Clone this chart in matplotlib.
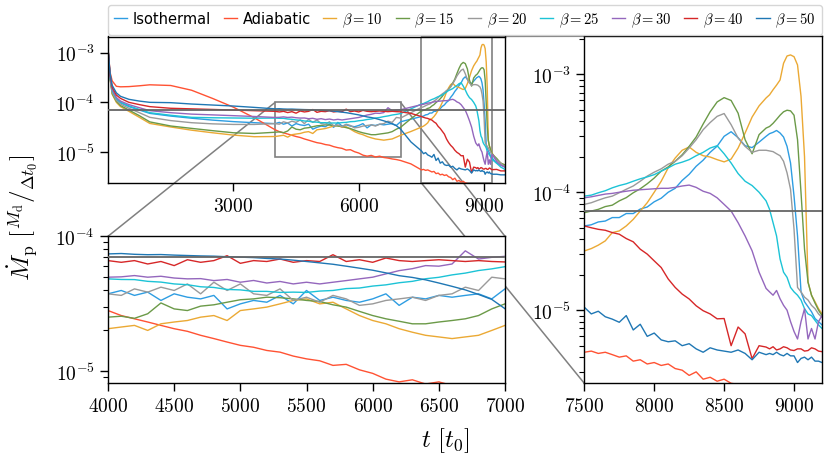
import numpy as np
import matplotlib
matplotlib.use("Agg")
import matplotlib.pyplot as plt
from matplotlib.patches import Rectangle, ConnectionPatch
from matplotlib.ticker import FixedLocator, FuncFormatter, NullLocator, NullFormatter, LogLocator

plt.rcParams['mathtext.fontset'] = 'cm'

# sample times [t0]
t = np.array([0, 50, 100, 200, 300, 500, 750, 1000, 1500, 2000, 2500, 3000, 3500]
             + list(range(4000, 7001, 100)) + [7250]
             + list(range(7500, 8801, 50)) + list(range(8825, 9201, 25))
             + [9300, 9400, 9500])

# accretion rates, in units of 1e-5 Md/dt0
iso = np.array([120, 32, 17, 11.5, 9.8, 8.2, 7.0, 6.0, 5.3, 4.8, 4.4, 4.1, 3.9,
                3.74, 3.96, 3.64, 3.85, 3.34, 3.74, 3.53, 3.43, 3.64, 2.89, 3.15, 3.34, 3.24, 3.64, 3.15, 3.96,
                3.34, 3.53, 3.34, 3.24, 3.43, 3.74, 3.07, 3.53, 3.43, 3.64, 3.53, 3.64, 3.74, 3.43, 4.07,
                4.6,
                5.18, 5.3, 5.6, 5.7, 6.1, 6.1, 6.6, 6.6, 7.2, 7.5, 8.3, 8.9, 10.0, 10.8, 12.6, 14.2, 16.6,
                18.7, 21.8, 24.6, 29.8, 32.6, 29.0, 24.8, 23.9, 26.6, 29.8,
                31.4, 32.2, 33.4, 31.8, 29.4, 24.5, 17.7, 9.27, 4.26, 1.43, 1.18, 1.07, 0.97, 0.85, 0.8, 0.75,
                0.6, 0.55, 0.5]) * 1e-5
adiabatic = np.array([120, 40, 27, 21, 20.5, 20.7, 21.5, 22.5, 21.8, 17.5, 12, 8.0, 4.9,
                      2.81, 2.58, 2.44, 2.31, 2.18, 2.06, 1.97, 1.84, 1.74, 1.64, 1.55, 1.5, 1.42, 1.38, 1.29, 1.23,
                      1.19, 1.1, 1.12, 1.02, 0.96, 0.87, 0.83, 0.86, 0.8, 0.83, 0.78, 0.76, 0.73, 0.71, 0.68,
                      0.58,
                      0.44, 0.45, 0.43, 0.44, 0.42, 0.40, 0.41, 0.37, 0.38, 0.35, 0.36, 0.34, 0.35, 0.32, 0.31,
                      0.28, 0.30, 0.26, 0.27, 0.25, 0.26, 0.24, 0.235, 0.22, 0.21, 0.20, 0.19,
                      0.185, 0.18, 0.178, 0.175, 0.17, 0.168, 0.165, 0.16, 0.158, 0.155, 0.152, 0.15, 0.148,
                      0.145, 0.142, 0.14,
                      0.13, 0.12, 0.11]) * 1e-5
b10 = np.array([120, 30, 14.5, 10, 8.2, 6.6, 5.0, 3.77, 3.2, 2.76, 2.45, 2.2, 2.04,
                2.06, 2.12, 2.18, 2.0, 2.24, 2.31, 2.37, 2.51, 2.58, 2.37, 2.81, 2.89, 2.98, 3.15, 3.34, 3.43,
                3.15, 3.24, 2.89, 2.58, 2.37, 2.24, 2.06, 1.94, 1.84, 1.79, 1.74, 1.79, 1.84, 2.0, 2.18,
                2.6,
                3.18, 3.33, 3.56, 3.87, 4.55, 4.7, 5.18, 5.89, 6.93, 8.15, 10.0, 12.4, 16.1, 19.5, 22.7,
                24.2, 21.8, 20.4, 19.9, 18.9, 18.1, 19.1, 23.7, 31.8, 43.4, 54, 63,
                67, 74, 81, 89.5, 124, 143, 146, 141, 120, 65, 20, 1.73, 1.34, 1.18, 1.03, 0.93,
                0.7, 0.6, 0.55]) * 1e-5
b15 = np.array([120, 30, 15, 10.5, 8.6, 7.0, 5.4, 4.05, 3.35, 3.0, 2.7, 2.45, 2.37,
                2.51, 2.55, 2.46, 2.66, 3.2, 2.89, 2.81, 3.03, 3.1, 3.24, 3.38, 3.43, 3.53, 3.5, 3.43, 3.34,
                3.28, 3.1, 2.98, 2.77, 2.58, 2.44, 2.34, 2.24, 2.24, 2.31, 2.37, 2.44, 2.58, 2.89, 3.15,
                4.7,
                6.71, 6.93, 7.16, 7.56, 7.77, 8.45, 9.0, 9.9, 10.7, 11.8, 13.2, 15.1, 16.4, 18.3, 20.8,
                24.5, 29.4, 37.9, 48.1, 58.3, 63.4, 60, 46.8, 27.9, 21.2, 30.8, 35,
                36.1, 38.4, 41.5, 45, 48.1, 49.6, 49, 45, 27.9, 9.9, 3.29, 1.73, 1.34, 1.15, 1.0, 0.9,
                0.75, 0.6, 0.55]) * 1e-5
b20 = np.array([120, 31, 16, 11, 9.2, 7.6, 6.2, 5.0, 4.3, 3.9, 3.7, 3.6, 3.6,
                3.74, 3.64, 4.07, 3.85, 4.19, 3.96, 4.43, 3.74, 4.56, 3.96, 4.43, 3.74, 3.64, 4.07, 3.34, 3.53,
                3.24, 3.64, 3.43, 3.07, 3.15, 3.34, 3.43, 3.53, 3.34, 3.64, 3.74, 4.19, 3.96, 4.97, 4.83,
                6.2,
                7.89, 8.15, 8.57, 8.97, 9.27, 9.9, 10.6, 11.3, 12.4, 13.7, 14.8, 15.8, 17.3, 18.3, 20.4,
                23.7, 27.9, 33.9, 39, 44, 46.5, 37.4, 28.8, 24.5, 21.8, 22.7, 22.7,
                22.4, 22.1, 21.2, 20.4, 18.3, 14.6, 10.6, 4.85, 1.56, 1.43, 1.29, 1.22, 1.1, 1.03, 0.93, 0.87,
                0.7, 0.6, 0.5]) * 1e-5
b25 = np.array([120, 31, 17.5, 12, 10.1, 8.5, 7.2, 6.2, 5.5, 5.0, 4.9, 4.85, 4.8,
                4.83, 4.78, 4.77, 4.63, 4.57, 4.43, 4.37, 4.22, 4.17, 4.03, 4.0, 3.9, 3.9, 3.83, 3.85, 3.83,
                3.92, 3.96, 4.09, 4.13, 4.27, 4.36, 4.52, 4.63, 4.84, 4.96, 5.17, 5.33, 5.57, 5.73, 5.95,
                7.4,
                9.27, 9.45, 9.9, 10.3, 10.9, 11.4, 11.8, 12.4, 13.0, 13.5, 14.1, 15.1, 16.1, 17.3, 18.0,
                18.9, 20.4, 21.8, 23.7, 24.8, 21.2, 17.7, 14.4, 12.4, 11.4, 10.0, 8.45,
                7.16, 5.52, 4.26, 2.72, 2.1, 1.9, 1.56, 1.43, 1.34, 1.22, 1.03, 0.93, 0.9, 0.82, 0.75, 0.7,
                0.6, 0.5, 0.45]) * 1e-5
b30 = np.array([120, 33, 18.5, 12.5, 10.6, 9.0, 7.8, 6.8, 6.2, 5.8, 5.6, 5.4, 5.2,
                4.97, 5.0, 5.11, 4.97, 5.05, 4.9, 4.83, 4.85, 4.69, 4.78, 4.56, 4.7, 4.5, 4.62, 4.43, 4.56,
                4.43, 4.56, 4.69, 4.83, 4.97, 5.26, 5.56, 5.75, 6.06, 6.0, 6.23, 7.8, 6.78, 6.98, 7.1,
                8.0,
                8.97, 9.15, 9.4, 9.65, 9.78, 10.0, 10.2, 10.4, 10.5, 10.6, 10.7, 10.8, 10.8, 11.0, 11.3,
                11.5, 11.0, 10.2, 9.78, 8.97, 7.89, 6.93, 5.52, 4.26, 3.19, 2.1, 1.53,
                1.43, 1.34, 1.47, 1.25, 1.1, 1.0, 0.8, 0.66, 0.57, 0.8, 1.03, 0.57, 0.7, 0.57, 0.8, 0.9,
                0.65, 0.55, 0.5]) * 1e-5
b40 = np.array([120, 36, 20, 14, 12, 10, 9.0, 8.2, 7.6, 7.4, 7.2, 7.0, 6.8,
                6.6, 6.41, 6.6, 6.23, 6.5, 6.06, 6.7, 6.41, 6.6, 7.18, 6.3, 6.6, 6.5, 6.78, 6.41, 6.6,
                6.5, 7.3, 6.5, 6.7, 6.41, 6.9, 6.6, 6.5, 6.6, 6.7, 6.6, 6.5, 6.6, 6.5, 6.45,
                6.0,
                5.18, 5.0, 4.85, 4.76, 4.55, 4.41, 4.05, 3.8, 3.29, 2.99, 2.62, 2.3, 1.84, 1.56, 1.37,
                1.245, 1.09, 0.99, 0.93, 0.845, 0.85, 0.5, 0.72, 0.63, 0.388, 0.5, 0.487,
                0.47, 0.49, 0.46, 0.47, 0.49, 0.48, 0.46, 0.455, 0.47, 0.47, 0.45, 0.455, 0.48, 0.47, 0.45, 0.445,
                0.45, 0.42, 0.42]) * 1e-5
b50 = np.array([120, 38, 22, 15.5, 13.2, 11.5, 10.6, 10.0, 9.85, 9.25, 8.83, 8.43, 7.92,
                7.4, 7.45, 7.35, 7.3, 7.32, 7.25, 7.2, 7.15, 7.12, 7.05, 7.0, 6.95, 6.85, 6.78, 6.65, 6.5,
                6.35, 6.2, 6.0, 5.8, 5.6, 5.35, 5.1, 4.95, 4.75, 4.5, 4.25, 4.0, 3.7, 3.4, 2.9,
                1.6,
                1.06, 0.93, 0.98, 0.88, 0.84, 0.79, 0.9, 0.68, 0.76, 0.6, 0.64, 0.56, 0.54, 0.55, 0.5,
                0.52, 0.47, 0.44, 0.48, 0.46, 0.45, 0.44, 0.46, 0.43, 0.38, 0.44, 0.42,
                0.43, 0.42, 0.44, 0.42, 0.41, 0.43, 0.41, 0.41, 0.36, 0.39, 0.40, 0.38, 0.4, 0.37, 0.37, 0.36,
                0.36, 0.35, 0.35]) * 1e-5

labels = ['Isothermal', 'Adiabatic', r'$\beta = 10$', r'$\beta = 15$', r'$\beta = 20$',
          r'$\beta = 25$', r'$\beta = 30$', r'$\beta = 40$', r'$\beta = 50$']
colors = ['#2e9de2', '#ff5233', '#eba934', '#6b9a48', '#9a9a9a',
          '#1cc3d6', '#9467bd', '#d62728', '#1f77b4']
series = [iso, adiabatic, b10, b15, b20, b25, b30, b40, b50]
mdot_ref = 7e-5

fig = plt.figure(figsize=(8.3, 4.64), dpi=100)
ax_full = fig.add_axes([108/830, 1-184/464, 397/830, 146.5/464])
ax_zoom = fig.add_axes([108/830, 1-384.3/464, 397/830, 147/464])
ax_end = fig.add_axes([584.3/830, 1-384.3/464, 237.7/830, 347/464])
ax_full.set_facecolor('none')

log_fmt = FuncFormatter(lambda v, p: r'$10^{%d}$' % round(np.log10(v)))
lin_fmt = FuncFormatter(lambda v, p: r'$%d$' % v)

for ax in (ax_full, ax_zoom, ax_end):
    for vals, lab, col in zip(series, labels, colors):
        ax.plot(t, vals, color=col, lw=1.0, label=lab)
    ax.axhline(mdot_ref, color='0.4', lw=1.3, zorder=3)
    ax.set_yscale('log')
    ax.yaxis.set_major_locator(FixedLocator([1e-5, 1e-4, 1e-3]))
    ax.yaxis.set_major_formatter(log_fmt)
    ax.yaxis.set_minor_locator(LogLocator(base=10, subs=np.arange(2, 10)))
    ax.yaxis.set_minor_formatter(NullFormatter())
    ax.xaxis.set_major_formatter(lin_fmt)
    ax.tick_params(which='major', length=6, width=1, labelsize=14, direction='out')
    ax.tick_params(which='minor', length=3.5, width=0.8, direction='out')
    for s in ax.spines.values():
        s.set_linewidth(1)

ax_full.set_xlim(0, 9500)
ax_full.set_ylim(2.4e-6, 2.1e-3)
ax_full.set_xticks([3000, 6000, 9000])
ax_full.yaxis.set_minor_locator(NullLocator())

ax_zoom.set_xlim(4000, 7000)
ax_zoom.set_ylim(8.1e-6, 1e-4)
ax_zoom.set_xticks(range(4000, 7001, 500))

ax_end.set_xlim(7500, 9200)
ax_end.set_ylim(2.4e-6, 2.1e-3)
ax_end.set_xticks([7500, 8000, 8500, 9000])

# zoom boxes and connectors
ax_full.add_patch(Rectangle((4000, 8.1e-6), 3000, 1e-4 - 8.1e-6, fill=False, ec='0.5', lw=1.2))
ax_full.add_patch(Rectangle((7500, 2.4e-6), 1700, 2.1e-3 - 2.4e-6, fill=False, ec='0.5', lw=1.2))
for xyA, xyB, axB in [((4000, 1e-4), (0, 1), ax_zoom), ((7000, 1e-4), (1, 1), ax_zoom),
                      ((7500, 2.4e-6), (0, 0), ax_end), ((7500, 2.1e-3), (0, 1), ax_end)]:
    con = ConnectionPatch(xyA=xyA, coordsA=ax_full.transData, xyB=xyB, coordsB=axB.transAxes,
                          color='0.5', lw=1.1)
    con.set_zorder(-1)
    fig.add_artist(con)

handles, labs = ax_full.get_legend_handles_labels()
fig.legend(handles, labs, loc='lower left', bbox_to_anchor=(108/830, 1-36/464, 714/830, 30/464),
           mode='expand', ncol=9, fontsize=10.5, handlelength=0.9, handletextpad=0.4,
           columnspacing=0.8, borderaxespad=0, frameon=True)

fig.text(0.027, 0.53, r'$\dot{M}_{\rm p}\ [^{M_{\rm d}}/_{\Delta t_0}]$', rotation=90,
         ha='center', va='center', fontsize=18)
fig.text(0.536, 0.05, r'$t\ [t_0]$', ha='center', va='center', fontsize=18)

fig.savefig('out.png', dpi=100)
